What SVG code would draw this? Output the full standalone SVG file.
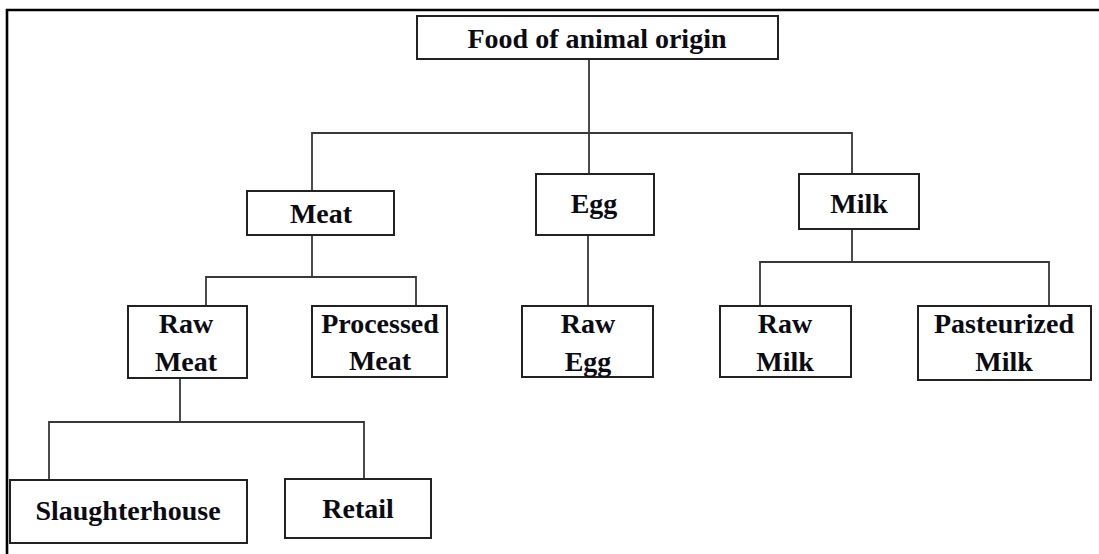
<svg xmlns="http://www.w3.org/2000/svg" width="1099" height="554" viewBox="0 0 1099 554">
<style>
.box{fill:#fff;stroke:#222;stroke-width:2}
.lbl{font-family:"Liberation Serif","Times New Roman",serif;font-weight:bold;font-size:28px;fill:#0b0b14;text-anchor:middle}
.conn{fill:none;stroke:#383838;stroke-width:1.8}
.frame{fill:none;stroke:#000;stroke-width:2.6}
</style>
<rect x="0" y="0" width="1099" height="554" fill="#fff"/>
<path class="frame" d="M7,554 V10 H1099"/>
<g id="connectors">
<path class="conn" d="M589,59 V175"/>
<path class="conn" d="M312,191 V133 H852 V174"/>
<path class="conn" d="M312,235 V277"/>
<path class="conn" d="M206,306 V277 H416 V306"/>
<path class="conn" d="M588,235 V306"/>
<path class="conn" d="M852,229 V262"/>
<path class="conn" d="M760,306 V262 H1049 V306"/>
<path class="conn" d="M180,378 V422"/>
<path class="conn" d="M49,480 V422 H364 V479"/>
</g>
<g id="root"><rect class="box" x="417" y="16" width="361" height="43"/><text class="lbl" x="597" y="48">Food of animal origin</text></g>
<g id="meat"><rect class="box" x="247" y="191" width="147" height="44"/><text class="lbl" x="321" y="223">Meat</text></g>
<g id="egg"><rect class="box" x="536" y="174" width="118" height="61"/><text class="lbl" x="594" y="213">Egg</text></g>
<g id="milk"><rect class="box" x="799" y="174" width="120" height="55"/><text class="lbl" x="859" y="213">Milk</text></g>
<g id="raw-meat"><rect class="box" x="128" y="306" width="119" height="72"/><text class="lbl" x="186" y="333">Raw</text><text class="lbl" x="186" y="371">Meat</text></g>
<g id="processed-meat"><rect class="box" x="312" y="306" width="135" height="71"/><text class="lbl" x="380" y="333">Processed</text><text class="lbl" x="380" y="370">Meat</text></g>
<g id="raw-egg"><rect class="box" x="522" y="306" width="131" height="71"/><text class="lbl" x="588" y="333">Raw</text><text class="lbl" x="588" y="371">Egg</text></g>
<g id="raw-milk"><rect class="box" x="720" y="306" width="131" height="71"/><text class="lbl" x="785" y="333">Raw</text><text class="lbl" x="785" y="371">Milk</text></g>
<g id="pasteurized-milk"><rect class="box" x="918" y="306" width="173" height="74"/><text class="lbl" x="1004" y="333">Pasteurized</text><text class="lbl" x="1004" y="371">Milk</text></g>
<g id="slaughterhouse"><rect class="box" x="10" y="480" width="237" height="63"/><text class="lbl" x="128" y="520">Slaughterhouse</text></g>
<g id="retail"><rect class="box" x="285" y="479" width="146" height="59"/><text class="lbl" x="358" y="518">Retail</text></g>
</svg>
